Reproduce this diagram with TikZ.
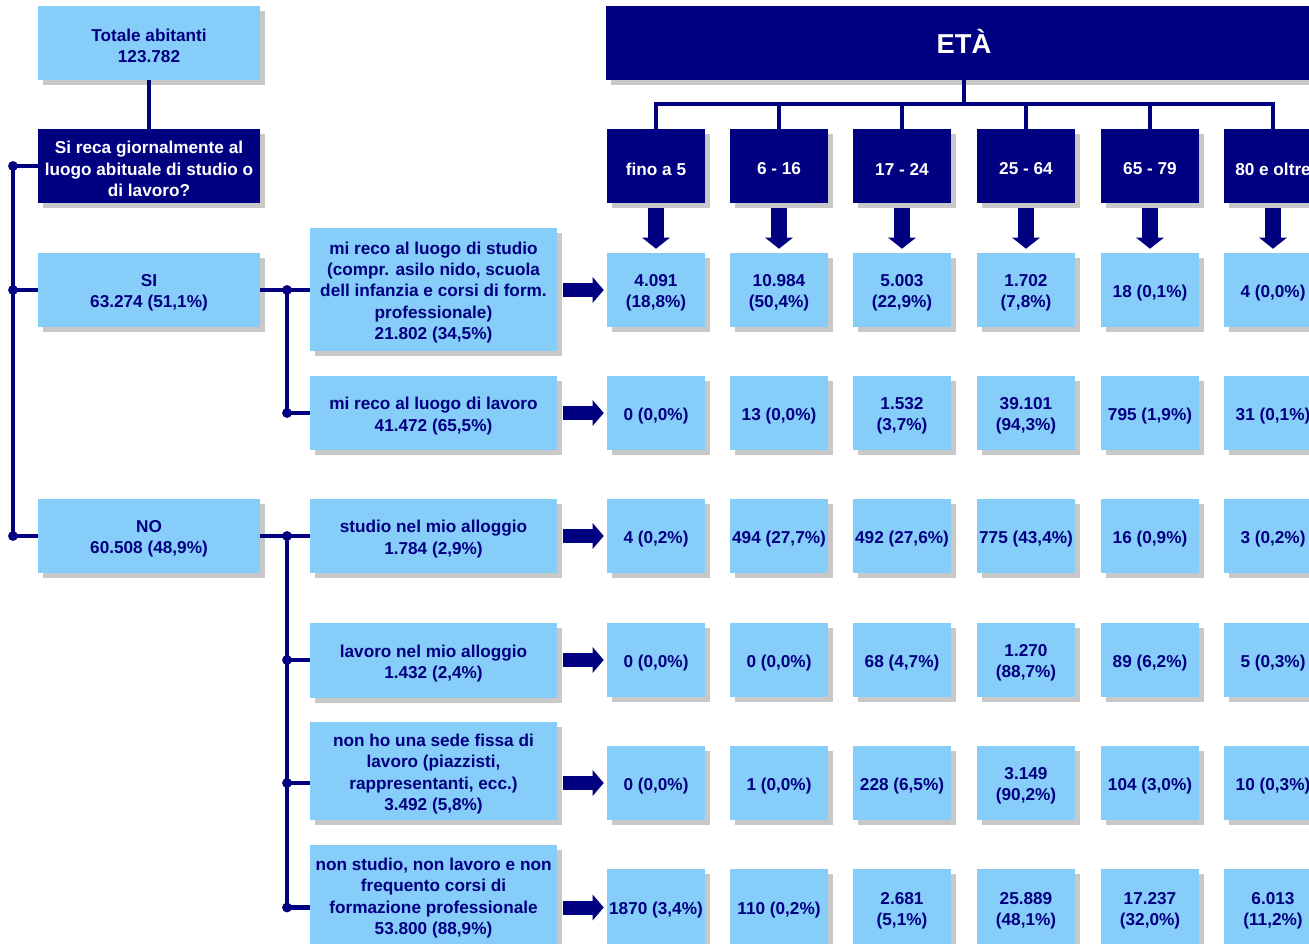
\documentclass[tikz,border=0pt]{standalone}
\usepackage{fontspec}
\setmainfont{Liberation Sans}
\usetikzlibrary{shadows,arrows.meta,calc}
\definecolor{navyc}{RGB}{0,0,128}
\definecolor{lightb}{RGB}{135,205,250}
\definecolor{shgray}{RGB}{200,200,200}
\tikzset{
 boxbase/.style={inner sep=0pt, drop shadow={shadow xshift=4pt, shadow yshift=-4pt, fill=shgray, opacity=1}},
 boxl/.style={boxbase, fill=lightb},
 boxd/.style={boxbase, fill=navyc},
 txtbase/.style={inner sep=0pt, align=center, font=\fontsize{12.9}{15.9}\selectfont\bfseries, yshift=-2.25pt},
 txtl/.style={txtbase, text=navyc},
 txtd/.style={txtbase, text=white},
 conn/.style={draw=navyc, line width=3.3pt},
 jdot/.style={fill=navyc},
 rarr/.style={draw=navyc, line width=10.5pt, -{Triangle[length=8.25pt,width=18.75pt]}, shorten <=4.5pt, shorten >=2.25pt},
 darr/.style={draw=navyc, line width=12pt, -{Triangle[length=8.25pt,width=20.25pt]}, shorten <=3.75pt, shorten >=3pt},
}
\newcommand\mkbox[7]{%
 \pgfmathsetmacro\bxw{(#4-#2)*0.75}\pgfmathsetmacro\bxh{(#5-#3)*0.75}%
 \node[box#6, minimum width=\bxw pt, minimum height=\bxh pt] (#1) at ({(#2+#4)/2},{(#3+#5)/2}) {};
 \node[txt#6] (#1t) at (#1.center) {#7};}
\begin{document}
\begin{tikzpicture}[x=0.75pt,y=-0.75pt]
\clip (0,0) rectangle (1309,944);
\fill[white] (0,0) rectangle (1309,944);
% left column
\mkbox{tot}{38}{6}{260}{80}{l}{Totale abitanti\\123.782}
\mkbox{q}{38}{129}{260}{203}{d}{Si reca giornalmente al\\luogo abituale di studio o\\di lavoro?}
\mkbox{si}{38}{253}{260}{327}{l}{SI\\63.274 (51,1\%)}
\mkbox{no}{38}{499}{260}{573}{l}{NO\\60.508 (48,9\%)}
% second column
\mkbox{c1}{310}{228}{557}{351}{l}{mi reco al luogo di studio\\(compr. asilo nido, scuola\\dell infanzia e corsi di form.\\professionale)\\21.802 (34,5\%)}
\mkbox{c2}{310}{376}{557}{450}{l}{mi reco al luogo di lavoro\\41.472 (65,5\%)}
\mkbox{c3}{310}{499}{557}{573}{l}{studio nel mio alloggio\\1.784 (2,9\%)}
\mkbox{c4}{310}{623}{557}{698}{l}{lavoro nel mio alloggio\\1.432 (2,4\%)}
\mkbox{c5}{310}{722}{557}{820}{l}{non ho una sede fissa di\\lavoro (piazzisti,\\rappresentanti, ecc.)\\3.492 (5,8\%)}
\mkbox{c6}{310}{845}{557}{945}{l}{non studio, non lavoro e non\\frequento corsi di\\formazione professionale\\53.800 (88,9\%)}
% ETA header
\pgfmathsetmacro\bxw{(1322-606)*0.75}\pgfmathsetmacro\bxh{(80-6)*0.75}
\node[boxd, minimum width=\bxw pt, minimum height=\bxh pt] (eta) at (964,43) {};
\node[inner sep=0pt, text=white, font=\fontsize{20.5}{24}\selectfont\bfseries, yshift=1.5pt] (etat) at (eta.center) {ETÀ};
% age headers
\mkbox{h1}{607}{129}{705}{203}{d}{fino a 5}
\mkbox{h2}{730}{129}{828}{203}{d}{6 - 16}
\mkbox{h3}{853}{129}{951}{203}{d}{17 - 24}
\mkbox{h4}{977}{129}{1075}{203}{d}{25 - 64}
\mkbox{h5}{1101}{129}{1199}{203}{d}{65 - 79}
\mkbox{h6}{1224}{129}{1322}{203}{d}{80 e oltre}
% row 1
\mkbox{d11}{607}{253}{705}{327}{l}{4.091\\(18,8\%)}
\mkbox{d12}{730}{253}{828}{327}{l}{10.984\\(50,4\%)}
\mkbox{d13}{853}{253}{951}{327}{l}{5.003\\(22,9\%)}
\mkbox{d14}{977}{253}{1075}{327}{l}{1.702\\(7,8\%)}
\mkbox{d15}{1101}{253}{1199}{327}{l}{18 (0,1\%)}
\mkbox{d16}{1224}{253}{1322}{327}{l}{4 (0,0\%)}
% row 2
\mkbox{d21}{607}{376}{705}{450}{l}{0 (0,0\%)}
\mkbox{d22}{730}{376}{828}{450}{l}{13 (0,0\%)}
\mkbox{d23}{853}{376}{951}{450}{l}{1.532\\(3,7\%)}
\mkbox{d24}{977}{376}{1075}{450}{l}{39.101\\(94,3\%)}
\mkbox{d25}{1101}{376}{1199}{450}{l}{795 (1,9\%)}
\mkbox{d26}{1224}{376}{1322}{450}{l}{31 (0,1\%)}
% row 3
\mkbox{d31}{607}{499}{705}{573}{l}{4 (0,2\%)}
\mkbox{d32}{730}{499}{828}{573}{l}{494 (27,7\%)}
\mkbox{d33}{853}{499}{951}{573}{l}{492 (27,6\%)}
\mkbox{d34}{977}{499}{1075}{573}{l}{775 (43,4\%)}
\mkbox{d35}{1101}{499}{1199}{573}{l}{16 (0,9\%)}
\mkbox{d36}{1224}{499}{1322}{573}{l}{3 (0,2\%)}
% row 4
\mkbox{d41}{607}{623}{705}{697}{l}{0 (0,0\%)}
\mkbox{d42}{730}{623}{828}{697}{l}{0 (0,0\%)}
\mkbox{d43}{853}{623}{951}{697}{l}{68 (4,7\%)}
\mkbox{d44}{977}{623}{1075}{697}{l}{1.270\\(88,7\%)}
\mkbox{d45}{1101}{623}{1199}{697}{l}{89 (6,2\%)}
\mkbox{d46}{1224}{623}{1322}{697}{l}{5 (0,3\%)}
% row 5
\mkbox{d51}{607}{746}{705}{820}{l}{0 (0,0\%)}
\mkbox{d52}{730}{746}{828}{820}{l}{1 (0,0\%)}
\mkbox{d53}{853}{746}{951}{820}{l}{228 (6,5\%)}
\mkbox{d54}{977}{746}{1075}{820}{l}{3.149\\(90,2\%)}
\mkbox{d55}{1101}{746}{1199}{820}{l}{104 (3,0\%)}
\mkbox{d56}{1224}{746}{1322}{820}{l}{10 (0,3\%)}
% row 6
\mkbox{d61}{607}{869}{705}{946}{l}{1870 (3,4\%)}
\mkbox{d62}{730}{869}{828}{946}{l}{110 (0,2\%)}
\mkbox{d63}{853}{869}{951}{946}{l}{2.681\\(5,1\%)}
\mkbox{d64}{977}{869}{1075}{946}{l}{25.889\\(48,1\%)}
\mkbox{d65}{1101}{869}{1199}{946}{l}{17.237\\(32,0\%)}
\mkbox{d66}{1224}{869}{1322}{946}{l}{6.013\\(11,2\%)}
% connectors, left tree
\coordinate (lx) at (13,0);
\coordinate (mx) at (287,0);
\coordinate (by) at (0,104);
\draw[conn] (tot.south) -- (q.north);
\draw[conn] (q.west) -- (lx |- q.west) -- (lx |- no.west) -- (no.west);
\draw[conn] (lx |- si.west) -- (si.west);
\foreach \p in {q.west, si.west, no.west} \fill[jdot] (lx |- \p) circle (3.7pt);
% SI branch
\draw[conn] (si.east) -- (c1.west |- si.east);
\draw[conn] (mx |- si.east) -- (mx |- d21.west) -- (c2.west |- d21.west);
\fill[jdot] (mx |- si.east) circle (3.7pt);
\fill[jdot] (mx |- d21.west) circle (3.7pt);
% NO branch
\draw[conn] (no.east) -- (c3.west |- no.east);
\draw[conn] (mx |- no.east) -- (mx |- d61.west) -- (c6.west |- d61.west);
\draw[conn] (mx |- d41.west) -- (c4.west |- d41.west);
\draw[conn] (mx |- d51.west) -- (c5.west |- d51.west);
\foreach \r in {no.east, d41.west, d51.west, d61.west} \fill[jdot] (mx |- \r) circle (3.7pt);
% right block arrows
\draw[rarr] (c1.east |- d11.west) -- (d11.west);
\draw[rarr] (c2.east |- d21.west) -- (d21.west);
\draw[rarr] (c3.east |- d31.west) -- (d31.west);
\draw[rarr] (c4.east |- d41.west) -- (d41.west);
\draw[rarr] (c5.east |- d51.west) -- (d51.west);
\draw[rarr] (c6.east |- d61.west) -- (d61.west);
% age bracket
\draw[conn] (eta.south) -- (eta.south |- by);
\draw[conn, line cap=rect] (h1.north |- by) -- (h6.north |- by);
\foreach \j in {1,...,6} {
  \draw[conn] (h\j.north |- by) -- (h\j.north);
  \draw[darr] (h\j.south) -- (d1\j.north);
}
\end{tikzpicture}
\end{document}
